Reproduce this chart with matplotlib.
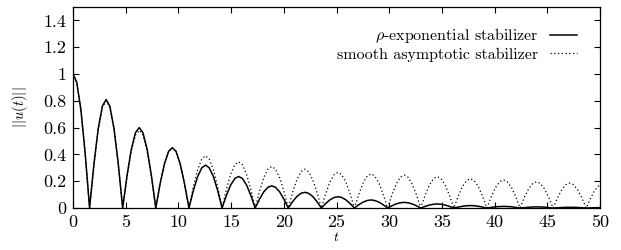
import matplotlib
matplotlib.use("Agg")
import matplotlib.pyplot as plt

# ---- data (t, |u(t)|) ----
t = [0.0, 0.35, 0.75, 1.15, 1.57,
     1.99, 2.39, 2.79, 3.14, 3.49, 3.89, 4.29, 4.71,
     5.13, 5.53, 5.93, 6.28, 6.63, 7.03, 7.43, 7.85,
     8.27, 8.67, 9.07, 9.42, 9.77, 10.17, 10.57, 11.00,
     11.42, 11.82, 12.22, 12.57, 12.92, 13.32, 13.72, 14.14,
     14.56, 14.96, 15.36, 15.71, 16.06, 16.46, 16.86, 17.28,
     17.70, 18.10, 18.50, 18.85, 19.20, 19.60, 20.00, 20.42,
     20.84, 21.24, 21.64, 21.99, 22.34, 22.74, 23.14, 23.56,
     23.98, 24.38, 24.78, 25.13, 25.48, 25.88, 26.28, 26.70,
     27.12, 27.52, 27.92, 28.27, 28.62, 29.02, 29.42, 29.85,
     30.27, 30.67, 31.07, 31.42, 31.77, 32.17, 32.57, 32.99,
     33.41, 33.81, 34.21, 34.56, 34.91, 35.31, 35.71, 36.13,
     36.55, 36.95, 37.35, 37.70, 38.05, 38.45, 38.85, 39.27,
     39.69, 40.09, 40.49, 40.84, 41.19, 41.59, 41.99, 42.41,
     42.83, 43.23, 43.63, 43.98, 44.33, 44.73, 45.13, 45.55,
     45.97, 46.37, 46.77, 47.12, 47.47, 47.87, 48.27, 48.69,
     49.11, 49.51, 49.91, 50.0]

rho_exp = [1.0, 0.939, 0.732, 0.409, 0.0,
           0.331, 0.593, 0.761, 0.81, 0.761, 0.593, 0.331, 0.0,
           0.245, 0.439, 0.563, 0.60, 0.563, 0.439, 0.245, 0.0,
           0.184, 0.329, 0.423, 0.45, 0.423, 0.329, 0.184, 0.0,
           0.131, 0.234, 0.300, 0.32, 0.300, 0.234, 0.131, 0.0,
           0.096, 0.172, 0.221, 0.235, 0.221, 0.172, 0.096, 0.0,
           0.067, 0.121, 0.155, 0.165, 0.155, 0.121, 0.067, 0.0,
           0.048, 0.086, 0.110, 0.117, 0.110, 0.086, 0.048, 0.0,
           0.034, 0.061, 0.079, 0.084, 0.079, 0.061, 0.034, 0.0,
           0.025, 0.044, 0.056, 0.060, 0.056, 0.044, 0.025, 0.0,
           0.017, 0.031, 0.039, 0.042, 0.039, 0.031, 0.017, 0.0,
           0.012, 0.022, 0.028, 0.030, 0.028, 0.022, 0.012, 0.0,
           0.007, 0.013, 0.017, 0.018, 0.017, 0.013, 0.007, 0.0,
           0.005, 0.009, 0.011, 0.012, 0.011, 0.009, 0.005, 0.0,
           0.003, 0.006, 0.008, 0.008, 0.008, 0.006, 0.003, 0.0,
           0.002, 0.004, 0.005, 0.005, 0.005, 0.004, 0.002, 0.0,
           0.001, 0.002, 0.003, 0.003]

smooth_asym = [1.0, 0.939, 0.732, 0.409, 0.0,
               0.327, 0.586, 0.751, 0.80, 0.751, 0.586, 0.327, 0.0,
               0.237, 0.425, 0.545, 0.58, 0.545, 0.425, 0.237, 0.0,
               0.184, 0.329, 0.423, 0.45, 0.423, 0.329, 0.184, 0.0,
               0.160, 0.285, 0.366, 0.39, 0.366, 0.285, 0.160, 0.0,
               0.141, 0.253, 0.324, 0.345, 0.324, 0.253, 0.141, 0.0,
               0.127, 0.227, 0.291, 0.31, 0.291, 0.227, 0.127, 0.0,
               0.119, 0.212, 0.272, 0.29, 0.272, 0.212, 0.119, 0.0,
               0.109, 0.195, 0.250, 0.266, 0.250, 0.195, 0.109, 0.0,
               0.104, 0.187, 0.239, 0.255, 0.239, 0.187, 0.104, 0.0,
               0.101, 0.180, 0.231, 0.246, 0.231, 0.180, 0.101, 0.0,
               0.096, 0.171, 0.220, 0.234, 0.220, 0.171, 0.096, 0.0,
               0.089, 0.160, 0.205, 0.218, 0.205, 0.160, 0.089, 0.0,
               0.086, 0.154, 0.197, 0.21, 0.197, 0.154, 0.086, 0.0,
               0.080, 0.143, 0.184, 0.196, 0.184, 0.143, 0.080, 0.0,
               0.076, 0.136, 0.175, 0.186, 0.175, 0.136, 0.076, 0.0,
               0.074, 0.132, 0.169, 0.175]

labels = [r"$\rho$-exponential stabilizer", "smooth asymptotic stabilizer"]
xticks = list(range(0, 51, 5))
yticks = [0, 0.2, 0.4, 0.6, 0.8, 1, 1.2, 1.4]
ytick_labels = ["0", "0.2", "0.4", "0.6", "0.8", "1", "1.2", "1.4"]

# ---- style: gnuplot / LaTeX look ----
plt.rcParams["font.family"] = ["cmr10", "DejaVu Serif"]
plt.rcParams["mathtext.fontset"] = "cm"
plt.rcParams["axes.formatter.use_mathtext"] = True

fig = plt.figure(figsize=(6.21, 2.5), dpi=100)
ax = fig.add_axes([0.1176, 0.168, 0.8486, 0.804])

ax.plot(t, rho_exp, color="black", lw=1.1, label=labels[0])
ax.plot(t, smooth_asym, color="black", lw=0.9, ls=(0, (1, 2)), label=labels[1])

ax.set_xlim(0, 50)
ax.set_ylim(0, 1.5)
ax.set_xticks(xticks)
ax.set_xticklabels([str(v) for v in xticks])
ax.set_yticks(yticks)
ax.set_yticklabels(ytick_labels)
ax.tick_params(direction="in", top=True, right=True, length=4, width=0.8,
               labelsize=13, pad=5)
for s in ax.spines.values():
    s.set_linewidth(0.9)

ax.set_xlabel(r"$t$", fontsize=10, labelpad=0.5)
ax.set_ylabel(r"$||u(t)||$", fontsize=10.5, labelpad=9)

ax.legend(loc="upper right", bbox_to_anchor=(0.957, 0.905), frameon=False,
          markerfirst=False, fontsize=11.5, handlelength=1.7,
          handletextpad=0.75, labelspacing=0.15, borderaxespad=0.0,
          borderpad=0.0)

plt.savefig("out.png", dpi=100)
